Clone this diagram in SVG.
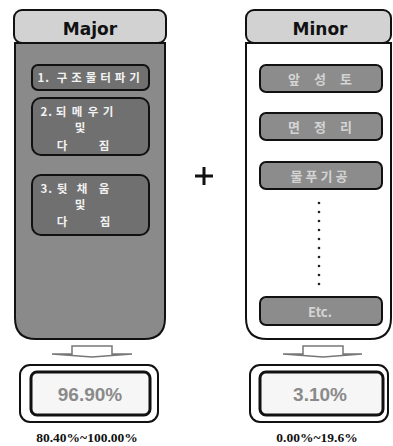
<svg xmlns="http://www.w3.org/2000/svg" width="393" height="446" viewBox="0 0 393 446">
<style>
.hdr{fill:#d2d2d2;stroke:#111;stroke-width:2}
.ht{font-family:"DejaVu Sans",Verdana,sans-serif;font-weight:bold;font-size:17px;fill:#111;text-anchor:middle}
.ib{fill:#707070;stroke:#111;stroke-width:2}
.mb{fill:#8c8c8c;stroke:#111;stroke-width:2}
.it{font-family:"Noto Sans CJK KR","Liberation Sans",sans-serif;font-weight:bold;font-size:11.5px;fill:#f2f2f2;text-anchor:middle}
.mt{font-family:"Noto Sans CJK KR","Liberation Sans",sans-serif;font-weight:bold;font-size:13px;fill:#d4d4d4;text-anchor:middle}
.arr{fill:#fff;stroke:#777;stroke-width:1.5}
.ro{fill:#fff;stroke:#111;stroke-width:2}
.ri{fill:#f6f6f6;stroke:#111;stroke-width:3}
.rt{font-family:"Liberation Sans",Arial,sans-serif;font-weight:bold;font-size:19px;fill:#8a8a8a;text-anchor:middle}
.rg{font-family:"Liberation Serif","Times New Roman",serif;font-weight:bold;font-size:13.5px;fill:#111;text-anchor:middle}
</style>
<rect width="393" height="446" fill="#fff"/>
<g id="major">
  <path d="M15,43 H165 V318 Q165,339 144,339 H36 Q15,339 15,318 Z" fill="#8a8a8a" stroke="#111" stroke-width="2"/>
  <rect class="hdr" x="14" y="10" width="152" height="33" rx="8"/>
  <text class="ht" x="90" y="35">Major</text>
</g>
<g id="major-1">
  <rect class="ib" x="32" y="65" width="117" height="25" rx="6"/>
  <text class="it" font-size="13" x="41 47 62 76.5 91 105.5 120 134.5" y="82">1.구조물터파기</text>
</g>
<g id="major-2">
  <rect class="ib" x="32" y="98" width="117" height="57" rx="9"/>
  <text class="it" x="44 50 61 77 93 108" y="116">2.되메우기</text>
  <text class="it" x="80" y="132">및</text>
  <text class="it" x="62" y="150">다</text>
  <text class="it" x="104" y="150">짐</text>
</g>
<g id="major-3">
  <rect class="ib" x="32" y="175" width="117" height="60" rx="9"/>
  <text class="it" x="44 50 62 82 104" y="193">3.뒷채움</text>
  <text class="it" x="80" y="209">및</text>
  <text class="it" x="62" y="226">다</text>
  <text class="it" x="105" y="226">짐</text>
</g>
<g id="plus">
  <path d="M195,176 H213 M204,167 V185" stroke="#111" stroke-width="3" fill="none"/>
</g>
<g id="minor">
  <path d="M246,43 H391 V318 Q391,339 370,339 H267 Q246,339 246,318 Z" fill="#fff" stroke="#111" stroke-width="2"/>
  <rect class="hdr" x="246" y="10" width="145" height="33" rx="8"/>
  <text class="ht" x="320" y="35">Minor</text>
</g>
<g id="minor-1">
  <rect class="mb" x="260" y="65" width="122" height="27" rx="6"/>
  <text class="mt" x="294 320 346" y="84">앞성토</text>
</g>
<g id="minor-2">
  <rect class="mb" x="260" y="113" width="122" height="27" rx="6"/>
  <text class="mt" x="294 320 346" y="132">면정리</text>
</g>
<g id="minor-3">
  <rect class="mb" x="260" y="162" width="122" height="27" rx="6"/>
  <text class="mt" x="296.5 311.5 326.5 341.5" y="181">물푸기공</text>
</g>
<g id="dots" fill="#222">
  <circle cx="319" cy="203" r="1.3"/><circle cx="319" cy="212" r="1.3"/><circle cx="319" cy="221" r="1.3"/><circle cx="319" cy="230" r="1.3"/><circle cx="319" cy="239" r="1.3"/><circle cx="319" cy="248" r="1.3"/><circle cx="319" cy="257" r="1.3"/><circle cx="319" cy="266" r="1.3"/><circle cx="319" cy="275" r="1.3"/><circle cx="319" cy="284" r="1.3"/>
</g>
<g id="minor-etc">
  <rect class="mb" x="260" y="297" width="122" height="28" rx="6"/>
  <text class="mt" x="320" y="317" font-family="DejaVu Sans, sans-serif" font-weight="normal" font-size="13px">Etc.</text>
</g>
<g id="connectors">
  <path class="arr" d="M72,346 H112 V354 H132 L92,357 L52,354 H72 Z"/>
  <path class="arr" d="M303,346 H343 V354 H362 L323,357 L283,354 H303 Z"/>
</g>
<g id="result-major">
  <rect class="ro" x="20" y="365" width="138" height="57" rx="10"/>
  <rect class="ri" x="31" y="372" width="119" height="43" rx="6"/>
  <text class="rt" x="90" y="401">96.90%</text>
  <text class="rg" x="87" y="442">80.40%~100.00%</text>
</g>
<g id="result-minor">
  <rect class="ro" x="250" y="365" width="138" height="57" rx="10"/>
  <rect class="ri" x="260" y="372" width="123" height="43" rx="6"/>
  <text class="rt" x="320" y="401">3.10%</text>
  <text class="rg" x="317" y="442">0.00%~19.6%</text>
</g>
</svg>
